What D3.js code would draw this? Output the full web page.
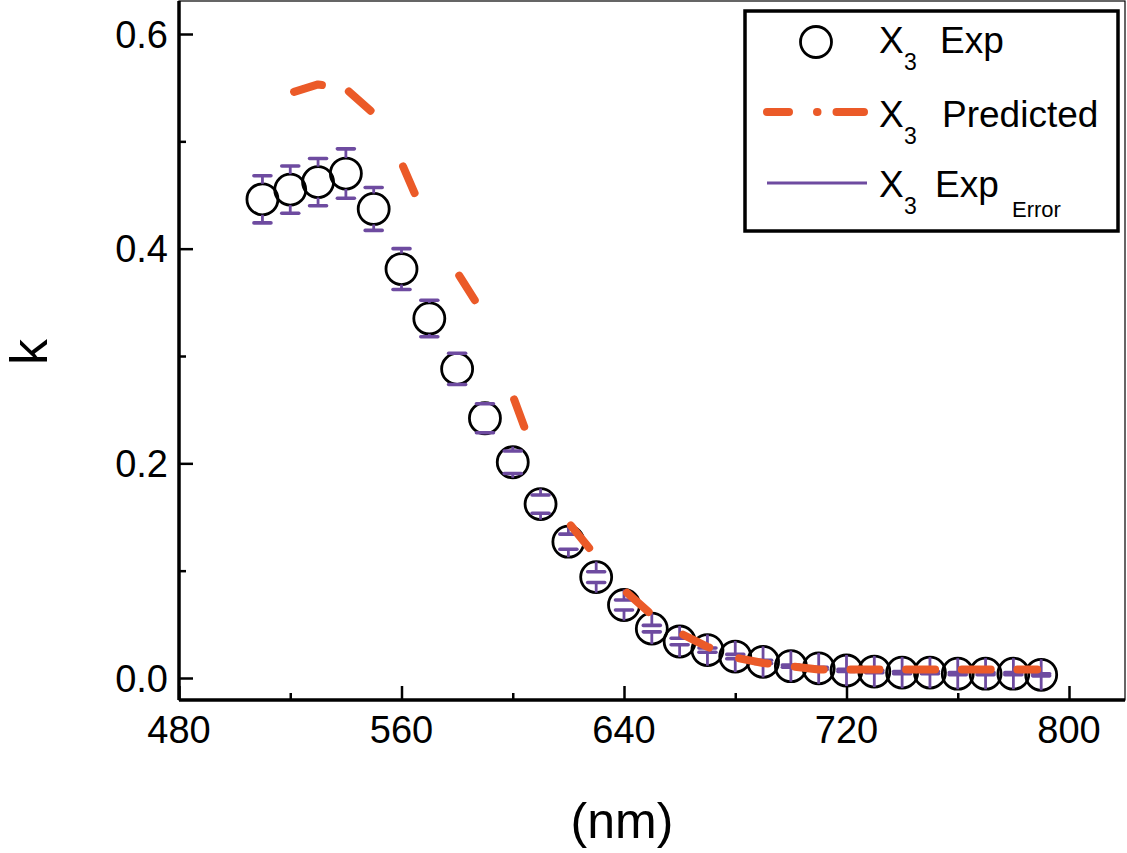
<!DOCTYPE html>
<html>
<head>
<meta charset="utf-8">
<script src="https://cdn.jsdelivr.net/npm/d3@7"></script>
<style>
  body { margin: 0; background: #fff; }
  svg text { font-family: "Liberation Sans", Arial, Helvetica, sans-serif; fill: #000; }
</style>
</head>
<body>
<div id="chart"></div>
<script>
// wavelength (nm) of every measured point
const wavelength = [510, 520, 530, 540, 550, 560, 570, 580, 590, 600,
                    610, 620, 630, 640, 650, 660, 670, 680, 690, 700,
                    710, 720, 730, 740, 750, 760, 770, 780, 790]
// X3 Exp  (k)
const kExp = [0.446, 0.455, 0.462, 0.470, 0.437, 0.381, 0.335, 0.288, 0.242, 0.201,
              0.162, 0.127, 0.094, 0.068, 0.046, 0.034, 0.026, 0.020, 0.015, 0.011,
              0.009, 0.007, 0.006, 0.005, 0.005, 0.004, 0.004, 0.004, 0.003]
// X3 Exp Error (+/-)
const kErr = [0.022, 0.022, 0.022, 0.023, 0.020, 0.019, 0.017, 0.0145, 0.0135, 0.0105,
              0.0085, 0.007, 0.005, 0.0047, 0.003, 0.003, 0.002, 0.002, 0.0015, 0.001,
              0.001, 0.001, 0.001, 0.001, 0.001, 0.001, 0.001, 0.001, 0.001]
// X3 Predicted (k)
const kPred = [0.531, 0.545, 0.553, 0.549, 0.526, 0.480, 0.420, 0.378, 0.337, 0.263,
               0.193, 0.145, 0.113, 0.082, 0.059, 0.042, 0.029, 0.019, 0.014, 0.011,
               0.008, 0.008, 0.008, 0.008, 0.008, 0.008, 0.008, 0.008, 0.008]

const xTicks = [480, 560, 640, 720, 800]
const xMinor = [520, 600, 680, 760]
const yTicks = [0.0, 0.2, 0.4, 0.6]
const yMinor = [0.1, 0.3, 0.5]

const W = 1127, H = 853
const frame = {left: 179, right: 1125, top: 1, bottom: 700}
const orange = "#eb5a28", purple = "#6e4ba0"
const R = 15.5 // marker radius

const svg = d3.select("#chart").append("svg")
    .attr("width", W).attr("height", H)

const x = d3.scaleLinear().domain([480, 800]).range([179, 1069])
const y = d3.scaleLinear().domain([0, 0.6]).range([678, 34])

const pts = wavelength.map((w, i) => ({w: w, k: kExp[i], e: kErr[i], p: kPred[i]}))

// frame: thin top/right, thick left/bottom
svg.append("rect")
    .attr("x", frame.left).attr("y", frame.top)
    .attr("width", frame.right - frame.left).attr("height", frame.bottom - frame.top)
    .attr("fill", "none").attr("stroke", "#000").attr("stroke-width", 1.2)

// axes, ticks pointing inward
const xAxis = d3.axisTop(x).tickValues(xTicks).tickSize(14).tickFormat("")
const xAxisMinor = d3.axisTop(x).tickValues(xMinor).tickSize(7).tickFormat("")
const yAxis = d3.axisRight(y).tickValues(yTicks).tickSize(14).tickFormat("")
const yAxisMinor = d3.axisRight(y).tickValues(yMinor).tickSize(7).tickFormat("")

;[xAxis, xAxisMinor].forEach(a => {
    svg.append("g").attr("transform", `translate(0,${frame.bottom})`).call(a)
        .call(g => g.select(".domain").remove())
        .selectAll("line").attr("stroke", "#000").attr("stroke-width", 2.5)
})
;[yAxis, yAxisMinor].forEach(a => {
    svg.append("g").attr("transform", `translate(${frame.left},0)`).call(a)
        .call(g => g.select(".domain").remove())
        .selectAll("line").attr("stroke", "#000").attr("stroke-width", 2.5)
})
svg.append("line").attr("x1", frame.left).attr("x2", frame.right)
    .attr("y1", frame.bottom).attr("y2", frame.bottom)
    .attr("stroke", "#000").attr("stroke-width", 3.5)
svg.append("line").attr("x1", frame.left).attr("x2", frame.left)
    .attr("y1", frame.top).attr("y2", frame.bottom)
    .attr("stroke", "#000").attr("stroke-width", 3.5)

// tick labels
svg.selectAll(".xlab").data(xTicks).join("text")
    .attr("class", "xlab")
    .attr("x", d => x(d)).attr("y", 743)
    .attr("text-anchor", "middle").style("font-size", "38px")
    .text(d => d)
svg.selectAll(".ylab").data(yTicks).join("text")
    .attr("class", "ylab")
    .attr("x", 168).attr("y", d => y(d)).attr("dy", "0.36em")
    .attr("text-anchor", "end").style("font-size", "38px")
    .text(d => d3.format(".1f")(d))

// axis titles
svg.append("text").attr("x", 622).attr("y", 838)
    .attr("text-anchor", "middle").style("font-size", "50px").text("(nm)")
svg.append("text").attr("transform", "translate(47,352) rotate(-90)")
    .attr("text-anchor", "middle").style("font-size", "52px").text("k")

// markers
svg.append("g").selectAll("circle").data(pts).join("circle")
    .attr("cx", d => x(d.w)).attr("cy", d => y(d.k)).attr("r", R)
    .attr("fill", "none").attr("stroke", "#000").attr("stroke-width", 2.8)

// error bars: stems run from the marker edge to each cap
const eb = svg.append("g").attr("stroke", purple)
eb.selectAll(".stemUp").data(pts).join("line").attr("class", "stemUp")
    .attr("x1", d => x(d.w)).attr("x2", d => x(d.w))
    .attr("y1", d => y(d.k) - R).attr("y2", d => y(d.k + d.e))
    .attr("stroke-width", 2.8)
eb.selectAll(".stemDn").data(pts).join("line").attr("class", "stemDn")
    .attr("x1", d => x(d.w)).attr("x2", d => x(d.w))
    .attr("y1", d => y(d.k) + R).attr("y2", d => y(d.k - d.e))
    .attr("stroke-width", 2.8)
eb.selectAll(".capUp").data(pts).join("line").attr("class", "capUp")
    .attr("x1", d => x(d.w) - 8.5).attr("x2", d => x(d.w) + 8.5)
    .attr("y1", d => y(d.k + d.e)).attr("y2", d => y(d.k + d.e))
    .attr("stroke-width", 3.6).attr("stroke-linecap", "round")
eb.selectAll(".capDn").data(pts).join("line").attr("class", "capDn")
    .attr("x1", d => x(d.w) - 8.5).attr("x2", d => x(d.w) + 8.5)
    .attr("y1", d => y(d.k - d.e)).attr("y2", d => y(d.k - d.e))
    .attr("stroke-width", 3.6).attr("stroke-linecap", "round")

// predicted: a dash starts at every 20 nm, like the original plot
const predPts = pts.filter(d => d.w >= 520)
const predLine = d3.line().x(d => x(d.w)).y(d => y(d.p))
let cum = [0]
for (let i = 1; i < predPts.length; i++) {
    const dx = x(predPts[i].w) - x(predPts[i - 1].w), dy = y(predPts[i].p) - y(predPts[i - 1].p)
    cum.push(cum[i - 1] + Math.hypot(dx, dy))
}
const total = cum[cum.length - 1]
const dashLen = 29
const starts = predPts.map((d, i) => ({w: d.w, L: cum[i] + 4})).filter(d => d.w % 20 === 0)
let dash = []
starts.forEach((s, j) => {
    const next = j + 1 < starts.length ? starts[j + 1].L : total + 100
    const len = Math.min(dashLen, total - s.L - 4)
    dash.push(len, next - s.L - len)
})
svg.append("path").datum(predPts)
    .attr("d", predLine)
    .attr("fill", "none").attr("stroke", orange).attr("stroke-width", 8)
    .attr("stroke-linecap", "round").attr("stroke-linejoin", "round")
    .attr("stroke-dasharray", dash.join(","))
    .attr("stroke-dashoffset", -4)

// legend
const lg = svg.append("g")
lg.append("rect").attr("x", 745).attr("y", 11).attr("width", 373).attr("height", 220)
    .attr("fill", "#fff").attr("stroke", "#000").attr("stroke-width", 3.5)
lg.append("circle").attr("cx", 816).attr("cy", 42).attr("r", R)
    .attr("fill", "none").attr("stroke", "#000").attr("stroke-width", 2.8)
lg.append("line").attr("x1", 767).attr("x2", 864).attr("y1", 112).attr("y2", 112)
    .attr("stroke", orange).attr("stroke-width", 8).attr("stroke-linecap", "round")
    .attr("stroke-dasharray", "22,28,0.5,19,40")
lg.append("line").attr("x1", 767).attr("x2", 867).attr("y1", 183).attr("y2", 183)
    .attr("stroke", purple).attr("stroke-width", 3)

const legendRows = [
    {y: 53, name: "Exp", nx: 940, sub: ""},
    {y: 127, name: "Predicted", nx: 942, sub: ""},
    {y: 197, name: "Exp", nx: 935, sub: "Error"}
]
legendRows.forEach(r => {
    lg.append("text").attr("x", 879).attr("y", r.y).style("font-size", "37px").text("X")
    lg.append("text").attr("x", 904).attr("y", r.y + 17).style("font-size", "23px").text("3")
    lg.append("text").attr("x", r.nx).attr("y", r.y).style("font-size", "37px").text(r.name)
    if (r.sub) lg.append("text").attr("x", 1012).attr("y", r.y + 20).style("font-size", "22px").text(r.sub)
})
</script>
</body>
</html>
